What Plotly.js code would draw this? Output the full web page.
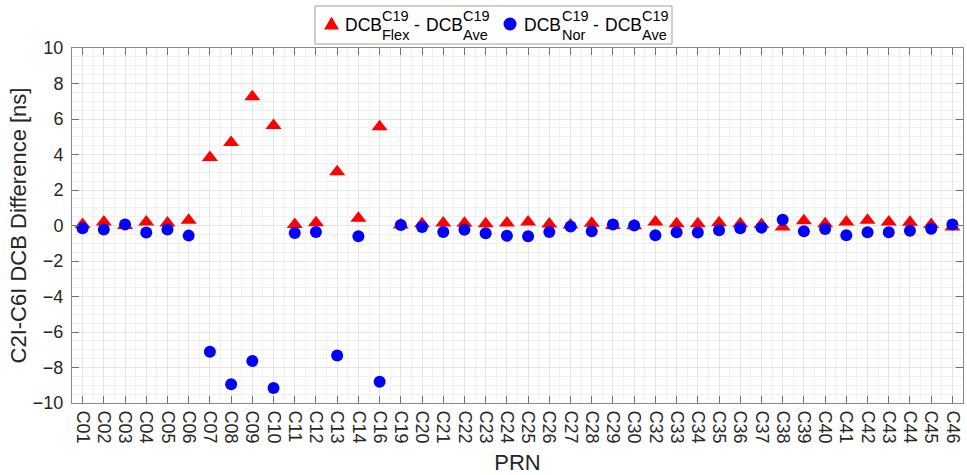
<!DOCTYPE html>
<html>
<head>
<meta charset="utf-8">
<script src="https://cdn.plot.ly/plotly-3.0.1.min.js"></script>
<style>
  html, body { margin: 0; padding: 0; background: #ffffff; }
  #chart { width: 967px; height: 475px; }
</style>
</head>
<body>
<div id="chart"></div>
<script>
// BDS satellites (PRN) and their C2I-C6I DCB differences in ns
const prn = ['C01','C02','C03','C04','C05','C06','C07','C08','C09','C10',
             'C11','C12','C13','C14','C16','C19','C20','C21','C22','C23',
             'C24','C25','C26','C27','C28','C29','C30','C32','C33','C34',
             'C35','C36','C37','C38','C39','C40','C41','C42','C43','C44',
             'C45','C46'];

// DCB(Flex) - DCB(Ave), referenced to C19
const flexMinusAve = [0.05, 0.20, 0.00, 0.20, 0.14, 0.29, 3.83, 4.68, 7.26, 5.64,
                      0.05, 0.16, 3.03, 0.41, 5.56, 0.03, 0.10, 0.14, 0.13, 0.10,
                      0.14, 0.20, 0.08, 0.03, 0.13, 0.00, -0.02, 0.20, 0.10, 0.10,
                      0.16, 0.10, 0.05, -0.08, 0.27, 0.10, 0.20, 0.29, 0.20, 0.18,
                      0.05, -0.08];

// DCB(Nor) - DCB(Ave), referenced to C19
const norMinusAve = [-0.16, -0.22, 0.05, -0.40, -0.22, -0.57, -7.11, -8.95, -7.63, -9.16,
                     -0.42, -0.37, -7.33, -0.61, -8.80, 0.03, -0.08, -0.37, -0.24, -0.44,
                     -0.58, -0.61, -0.37, -0.05, -0.33, 0.05, 0.00, -0.55, -0.38, -0.40,
                     -0.27, -0.16, -0.12, 0.33, -0.33, -0.20, -0.55, -0.38, -0.38, -0.29,
                     -0.18, 0.05];

const yTicks = [-10, -8, -6, -4, -2, 0, 2, 4, 6, 8, 10];

const idx = prn.map((_, i) => i + 1);

const FONT = 'Liberation Sans, Arial, Helvetica, sans-serif';
const TXT = '#262626';

const traces = [
  {
    x: idx, y: flexMinusAve, type: 'scatter', mode: 'markers',
    name: 'Flex', showlegend: false, hoverinfo: 'x+y',
    marker: { symbol: 'triangle-up', size: 14, color: '#ff0000', line: { width: 0 } }
  },
  {
    x: idx, y: norMinusAve, type: 'scatter', mode: 'markers',
    name: 'Nor', showlegend: false, hoverinfo: 'x+y',
    marker: { symbol: 'circle', size: 12, color: '#0000ff', line: { width: 0 } }
  }
];

// plot area in page pixels
const L = 72, R = 963, T = 48, B = 403;
const px = x => (x - L) / (R - L);
const py = y => (B - y) / (B - T);

// Legend drawn with stacked super/subscripts (TeX style)
const legendPieces = [
  { t: 'DCB',  x: 344, y: 25,   s: 17.5 },
  { t: 'C19',  x: 381, y: 16,   s: 14.5 },
  { t: 'Flex', x: 381, y: 34.5, s: 14.5 },
  { t: '-',    x: 413, y: 25,   s: 17.5 },
  { t: 'DCB',  x: 425, y: 25,   s: 17.5 },
  { t: 'C19',  x: 462, y: 16,   s: 14.5 },
  { t: 'Ave',  x: 462, y: 34.5, s: 14.5 },
  { t: 'DCB',  x: 523, y: 25,   s: 17.5 },
  { t: 'C19',  x: 561, y: 16,   s: 14.5 },
  { t: 'Nor',  x: 561, y: 34.5, s: 14.5 },
  { t: '-',    x: 592, y: 25,   s: 17.5 },
  { t: 'DCB',  x: 604, y: 25,   s: 17.5 },
  { t: 'C19',  x: 641, y: 16,   s: 14.5 },
  { t: 'Ave',  x: 641, y: 34.5, s: 14.5 }
];

const annotations = legendPieces.map(p => ({
  text: p.t, xref: 'paper', yref: 'paper', x: px(p.x), y: py(p.y),
  xanchor: 'left', yanchor: 'middle', showarrow: false, borderpad: 0,
  font: { family: FONT, size: p.s, color: '#000000' }
}));

const shapes = [
  { type: 'rect', xref: 'paper', yref: 'paper',
    x0: px(315), x1: px(672), y0: py(44), y1: py(6),
    line: { color: '#a0a0a0', width: 1 }, fillcolor: '#ffffff', layer: 'above' },
  { type: 'path', xref: 'paper', yref: 'paper', xsizemode: 'pixel', ysizemode: 'pixel',
    xanchor: px(331.5), yanchor: py(24),
    path: 'M -7.5,-5.5 L 7.5,-5.5 L 0,7.5 Z',
    fillcolor: '#ff0000', line: { width: 0 }, layer: 'above' },
  { type: 'circle', xref: 'paper', yref: 'paper', xsizemode: 'pixel', ysizemode: 'pixel',
    xanchor: px(510), yanchor: py(24), x0: -6.5, x1: 6.5, y0: -6.5, y1: 6.5,
    fillcolor: '#0000ff', line: { width: 0 }, layer: 'above' }
];

const axisCommon = {
  ticks: 'inside', ticklen: 7, tickwidth: 1, tickcolor: '#707070',
  showline: true, linecolor: '#8a8a8a', linewidth: 1, mirror: 'allticks',
  showgrid: true, gridcolor: '#e4e4e4', gridwidth: 1, zeroline: false,
  tickfont: { family: FONT, size: 18, color: TXT }
};

const layout = {
  width: 967, height: 475,
  margin: { l: L, r: 967 - R, t: T, b: 475 - B, pad: 0 },
  paper_bgcolor: '#ffffff', plot_bgcolor: '#ffffff',
  showlegend: false,
  xaxis: Object.assign({}, axisCommon, {
    range: [0.5, prn.length + 0.5], tickmode: 'array', tickvals: idx, ticktext: prn,
    tickangle: 90, automargin: false, ticklabelstandoff: 3,
    minor: { tickmode: 'linear', tick0: 0.5, dtick: 1, showgrid: true, gridcolor: '#f1f1f1', ticks: '' },
    title: { text: 'PRN', font: { family: FONT, size: 22, color: TXT }, standoff: 12 }
  }),
  yaxis: Object.assign({}, axisCommon, {
    range: [-10, 10], tickmode: 'array', tickvals: yTicks, automargin: false,
    ticklabelstandoff: 4,
    minor: { tickmode: 'linear', tick0: 0, dtick: 0.5, showgrid: true, gridcolor: '#f1f1f1', ticks: '' },
    title: { text: 'C2I-C6I DCB Difference [ns]', font: { family: FONT, size: 22, color: TXT }, standoff: 0 }
  }),
  annotations: annotations,
  shapes: shapes
};

Plotly.newPlot('chart', traces, layout, { displayModeBar: false, staticPlot: true });
</script>
</body>
</html>
